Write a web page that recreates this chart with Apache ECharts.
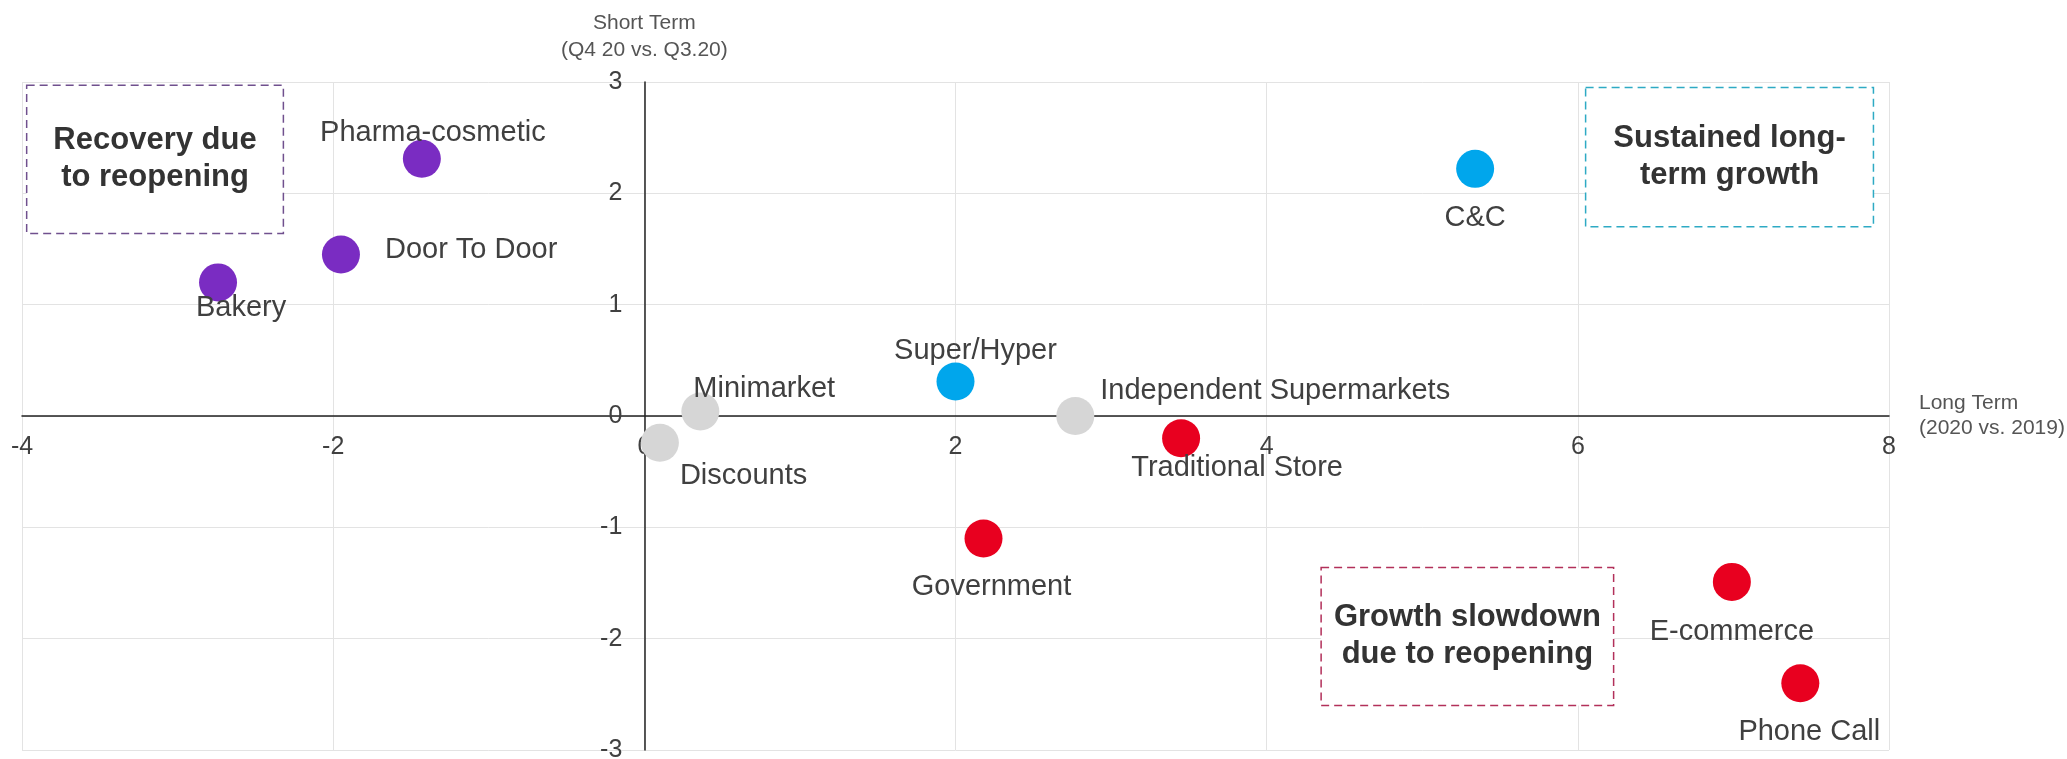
<!DOCTYPE html>
<html>
<head>
<meta charset="utf-8">
<title>Channel growth: long term vs short term</title>
<script src="https://cdn.jsdelivr.net/npm/echarts@6/dist/echarts.min.js"></script>
<style>
  html, body { margin: 0; padding: 0; background: #ffffff; }
  #chart { width: 2067px; height: 759px; }
</style>
</head>
<body>
<div id="chart"></div>
<script>
// Channels and their growth figures
const channels   = ['Pharma-cosmetic', 'Door To Door', 'Bakery', 'C&C', 'Super/Hyper', 'Minimarket',
                    'Discounts', 'Independent Supermarkets', 'Traditional Store', 'Government', 'E-commerce', 'Phone Call'];
const longTerm   = [-1.43, -1.95, -2.74, 5.34, 2.00, 0.36, 0.10, 2.77, 3.45, 2.18, 6.99, 7.43];   // 2020 vs. 2019
const shortTerm  = [ 2.31,  1.45,  1.20, 2.22, 0.31, 0.04, -0.24, 0.00, -0.20, -1.10, -1.49, -2.40]; // Q4 20 vs. Q3.20
const segment    = ['recovery', 'recovery', 'recovery', 'sustained', 'sustained', 'stable',
                    'stable', 'stable', 'slowdown', 'slowdown', 'slowdown', 'slowdown'];

// Axis ranges and ticks
const xTicks = [-4, -2, 0, 2, 4, 6, 8];
const yTicks = [-3, -2, -1, 0, 1, 2, 3];

// Quadrant call-outs: [title, [x0, y0], [x1, y1]]
const calloutTitles = ['Recovery due\nto reopening', 'Sustained long-\nterm growth', 'Growth slowdown\ndue to reopening'];
const calloutFrom   = [[-3.97, 2.97], [6.05, 2.95], [4.35, -1.36]];
const calloutTo     = [[-2.32, 1.64], [7.90, 1.70], [6.23, -2.60]];
const calloutSegment = ['recovery', 'sustained', 'slowdown'];

// Styling
const segmentColor = { recovery: '#7a2cc2', sustained: '#00a6ec', stable: '#d6d6d6', slowdown: '#e8001f' };
const calloutBorder = { recovery: '#70508e', sustained: '#2eaac4', slowdown: '#b2305a' };
const labelPlacement = {
  'Pharma-cosmetic':          { align: 'center', offset: [11, -26] },
  'Door To Door':             { align: 'left',   offset: [44, -5] },
  'Bakery':                   { align: 'center', offset: [23, 26] },
  'C&C':                      { align: 'center', offset: [0, 49] },
  'Super/Hyper':              { align: 'center', offset: [20, -30] },
  'Minimarket':               { align: 'left',   offset: [-7, -23] },
  'Discounts':                { align: 'left',   offset: [20, 33] },
  'Independent Supermarkets': { align: 'left',   offset: [25, -25] },
  'Traditional Store':        { align: 'center', offset: [56, 30] },
  'Government':               { align: 'center', offset: [8, 49] },
  'E-commerce':               { align: 'center', offset: [0, 50] },
  'Phone Call':               { align: 'center', offset: [9, 49] }
};

const FONT = '"Liberation Sans", Arial, sans-serif';
const TEXT = '#404040';

const points = channels.map((name, i) => {
  const place = labelPlacement[name];
  return {
    name: name,
    value: [longTerm[i], shortTerm[i]],
    itemStyle: { color: segmentColor[segment[i]], opacity: 1 },
    label: {
      show: true,
      position: 'inside',
      align: place.align,
      verticalAlign: 'middle',
      offset: place.offset,
      formatter: '{b}',
      color: TEXT,
      fontSize: 29,
      fontFamily: FONT
    }
  };
});

const callouts = calloutTitles.map((title, i) => [
  {
    name: title,
    coord: calloutFrom[i],
    itemStyle: {
      color: '#ffffff',
      opacity: 1,
      borderColor: calloutBorder[calloutSegment[i]],
      borderWidth: 1.5,
      borderType: [8, 5]
    }
  },
  { coord: calloutTo[i] }
]);

const chart = echarts.init(document.getElementById('chart'), null, { renderer: 'canvas' });

chart.setOption({
  backgroundColor: '#ffffff',
  animation: false,
  textStyle: { fontFamily: FONT },
  grid: { left: 22, right: 178, top: 82, bottom: 9, containLabel: false, outerBoundsMode: 'none' },
  xAxis: {
    type: 'value',
    position: 'bottom',
    min: xTicks[0],
    max: xTicks[xTicks.length - 1],
    interval: xTicks[1] - xTicks[0],
    name: 'Long Term\n(2020 vs. 2019)',
    nameLocation: 'end',
    nameGap: 30,
    nameTextStyle: { color: '#555555', fontSize: 21, lineHeight: 25, align: 'left', fontFamily: FONT },
    axisLine: { show: true, onZero: false, lineStyle: { color: '#222222', width: 1.5 } },
    axisTick: { show: false },
    axisLabel: { show: true, color: TEXT, fontSize: 25, margin: 19, fontFamily: FONT },
    splitLine: { show: true, lineStyle: { color: '#e3e3e3', width: 1 } }
  },
  yAxis: {
    type: 'value',
    position: 'left',
    min: yTicks[0],
    max: yTicks[yTicks.length - 1],
    interval: yTicks[1] - yTicks[0],
    name: 'Short Term\n(Q4 20 vs. Q3.20)',
    nameLocation: 'end',
    nameGap: 18,
    nameTextStyle: { color: '#555555', fontSize: 21, lineHeight: 27, align: 'center', fontFamily: FONT },
    axisLine: { show: true, onZero: false, lineStyle: { color: '#222222', width: 1.5 } },
    axisTick: { show: false },
    axisLabel: { show: true, color: TEXT, fontSize: 25, margin: 22, fontFamily: FONT },
    splitLine: { show: true, lineStyle: { color: '#e3e3e3', width: 1 } }
  },
  series: [
    {
      type: 'scatter',
      symbol: 'circle',
      symbolSize: 38,
      data: points,
      emphasis: { disabled: true },
      markArea: {
        silent: true,
        label: {
          show: true,
          position: 'inside',
          color: '#333333',
          fontSize: 31,
          fontWeight: 'bold',
          lineHeight: 37,
          fontFamily: FONT
        },
        emphasis: { disabled: true },
        data: callouts
      }
    }
  ]
});

// Move both axes (line, labels and name) so they cross at the origin.
const origin = chart.convertToPixel({ gridIndex: 0 }, [0, 0]);
const corner = chart.convertToPixel({ gridIndex: 0 }, [xTicks[0], yTicks[0]]);
chart.setOption({
  xAxis: { offset: -(corner[1] - origin[1]) },
  yAxis: { offset: -(origin[0] - corner[0]) }
});
</script>
</body>
</html>
